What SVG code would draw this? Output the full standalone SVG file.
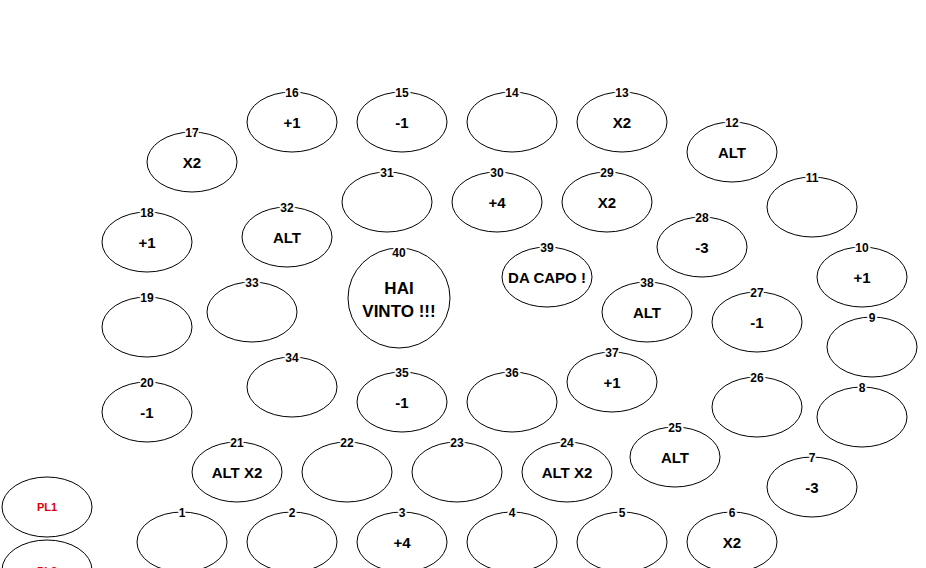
<svg xmlns="http://www.w3.org/2000/svg" width="926" height="568" viewBox="0 0 926 568">
<style>
  ellipse { fill: #ffffff; stroke: #000000; stroke-width: 1; }
  .n { font-family: "Liberation Sans", Arial, sans-serif; font-size: 12px; font-weight: bold; text-anchor: middle; dominant-baseline: central; fill: #000; stroke: #fff; stroke-width: 4; paint-order: stroke; stroke-linejoin: round; }
  .t { font-family: "Liberation Sans", Arial, sans-serif; font-size: 15px; font-weight: bold; text-anchor: middle; dominant-baseline: central; fill: #000; }
  .big { font-family: "Liberation Sans", Arial, sans-serif; font-size: 17px; font-weight: bold; text-anchor: middle; dominant-baseline: central; fill: #000; }
  .pl { font-family: "Liberation Sans", Arial, sans-serif; font-size: 11px; font-weight: bold; text-anchor: middle; dominant-baseline: central; fill: #e00000; }
</style>
<rect width="926" height="568" fill="#ffffff"/>
<g id="connectors"></g>

<g id="n1"><ellipse cx="182" cy="542" rx="45" ry="30"/><text class="n" x="182" y="513">1</text></g>
<g id="n2"><ellipse cx="292" cy="542" rx="45" ry="30"/><text class="n" x="292" y="513">2</text></g>
<g id="n3"><ellipse cx="402" cy="542" rx="45" ry="30"/><text class="n" x="402" y="513">3</text><text class="t" x="402" y="542">+4</text></g>
<g id="n4"><ellipse cx="512" cy="542" rx="45" ry="30"/><text class="n" x="512" y="513">4</text></g>
<g id="n5"><ellipse cx="622" cy="542" rx="45" ry="30"/><text class="n" x="622" y="513">5</text></g>
<g id="n6"><ellipse cx="732" cy="542" rx="45" ry="30"/><text class="n" x="732" y="513">6</text><text class="t" x="732" y="542">X2</text></g>
<g id="n7"><ellipse cx="812" cy="487" rx="45" ry="30"/><text class="n" x="812" y="458">7</text><text class="t" x="812" y="487">-3</text></g>
<g id="n8"><ellipse cx="862" cy="417" rx="45" ry="30"/><text class="n" x="862" y="388">8</text></g>
<g id="n9"><ellipse cx="872" cy="347" rx="45" ry="30"/><text class="n" x="872" y="318">9</text></g>
<g id="n10"><ellipse cx="862" cy="277" rx="45" ry="30"/><text class="n" x="862" y="248">10</text><text class="t" x="862" y="277">+1</text></g>
<g id="n11"><ellipse cx="812" cy="207" rx="45" ry="30"/><text class="n" x="812" y="178">11</text></g>
<g id="n12"><ellipse cx="732" cy="152" rx="45" ry="30"/><text class="n" x="732" y="123">12</text><text class="t" x="732" y="152">ALT</text></g>
<g id="n13"><ellipse cx="622" cy="122" rx="45" ry="30"/><text class="n" x="622" y="93">13</text><text class="t" x="622" y="122">X2</text></g>
<g id="n14"><ellipse cx="512" cy="122" rx="45" ry="30"/><text class="n" x="512" y="93">14</text></g>
<g id="n15"><ellipse cx="402" cy="122" rx="45" ry="30"/><text class="n" x="402" y="93">15</text><text class="t" x="402" y="122">-1</text></g>
<g id="n16"><ellipse cx="292" cy="122" rx="45" ry="30"/><text class="n" x="292" y="93">16</text><text class="t" x="292" y="122">+1</text></g>
<g id="n17"><ellipse cx="192" cy="162" rx="45" ry="30"/><text class="n" x="192" y="133">17</text><text class="t" x="192" y="162">X2</text></g>
<g id="n18"><ellipse cx="147" cy="242" rx="45" ry="30"/><text class="n" x="147" y="213">18</text><text class="t" x="147" y="242">+1</text></g>
<g id="n19"><ellipse cx="147" cy="327" rx="45" ry="30"/><text class="n" x="147" y="298">19</text></g>
<g id="n20"><ellipse cx="147" cy="412" rx="45" ry="30"/><text class="n" x="147" y="383">20</text><text class="t" x="147" y="412">-1</text></g>
<g id="n21"><ellipse cx="237" cy="472" rx="45" ry="30"/><text class="n" x="237" y="443">21</text><text class="t" x="237" y="472">ALT X2</text></g>
<g id="n22"><ellipse cx="347" cy="472" rx="45" ry="30"/><text class="n" x="347" y="443">22</text></g>
<g id="n23"><ellipse cx="457" cy="472" rx="45" ry="30"/><text class="n" x="457" y="443">23</text></g>
<g id="n24"><ellipse cx="567" cy="472" rx="45" ry="30"/><text class="n" x="567" y="443">24</text><text class="t" x="567" y="472">ALT X2</text></g>
<g id="n25"><ellipse cx="675" cy="457" rx="45" ry="30"/><text class="n" x="675" y="428">25</text><text class="t" x="675" y="457">ALT</text></g>
<g id="n26"><ellipse cx="757" cy="407" rx="45" ry="30"/><text class="n" x="757" y="378">26</text></g>
<g id="n27"><ellipse cx="757" cy="322" rx="45" ry="30"/><text class="n" x="757" y="293">27</text><text class="t" x="757" y="322">-1</text></g>
<g id="n28"><ellipse cx="702" cy="247" rx="45" ry="30"/><text class="n" x="702" y="218">28</text><text class="t" x="702" y="247">-3</text></g>
<g id="n29"><ellipse cx="607" cy="202" rx="45" ry="30"/><text class="n" x="607" y="173">29</text><text class="t" x="607" y="202">X2</text></g>
<g id="n30"><ellipse cx="497" cy="202" rx="45" ry="30"/><text class="n" x="497" y="173">30</text><text class="t" x="497" y="202">+4</text></g>
<g id="n31"><ellipse cx="387" cy="202" rx="45" ry="30"/><text class="n" x="387" y="173">31</text></g>
<g id="n32"><ellipse cx="287" cy="237" rx="45" ry="30"/><text class="n" x="287" y="208">32</text><text class="t" x="287" y="237">ALT</text></g>
<g id="n33"><ellipse cx="252" cy="312" rx="45" ry="30"/><text class="n" x="252" y="283">33</text></g>
<g id="n34"><ellipse cx="292" cy="387" rx="45" ry="30"/><text class="n" x="292" y="358">34</text></g>
<g id="n35"><ellipse cx="402" cy="402" rx="45" ry="30"/><text class="n" x="402" y="373">35</text><text class="t" x="402" y="402">-1</text></g>
<g id="n36"><ellipse cx="512" cy="402" rx="45" ry="30"/><text class="n" x="512" y="373">36</text></g>
<g id="n37"><ellipse cx="612" cy="382" rx="45" ry="30"/><text class="n" x="612" y="353">37</text><text class="t" x="612" y="382">+1</text></g>
<g id="n38"><ellipse cx="647" cy="312" rx="45" ry="30"/><text class="n" x="647" y="283">38</text><text class="t" x="647" y="312">ALT</text></g>
<g id="n39"><ellipse cx="547" cy="277" rx="45" ry="30"/><text class="n" x="547" y="248">39</text><text class="t" x="547" y="277">DA CAPO !</text></g>
<g id="n40"><ellipse cx="399" cy="298" rx="51" ry="50"/><text class="n" x="399" y="253">40</text><text class="big" x="399" y="288">HAI</text><text class="big" x="399" y="311">VINTO !!!</text></g>

<g id="pl1"><ellipse cx="47" cy="507" rx="45" ry="30"/><text class="pl" x="47" y="507">PL1</text></g>
<g id="pl2"><ellipse cx="47" cy="570" rx="45" ry="30"/><text class="pl" x="47" y="571">PL2</text></g>
</svg>
